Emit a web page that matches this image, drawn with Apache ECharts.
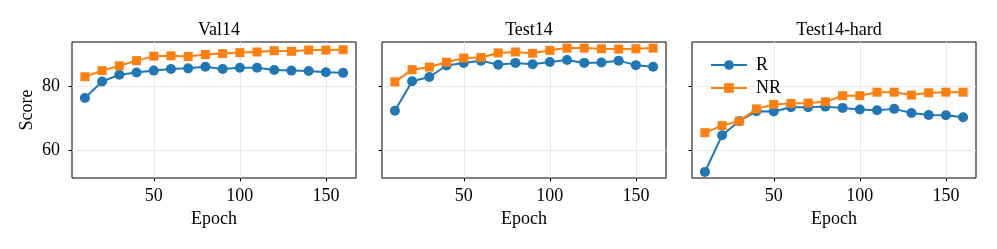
<!DOCTYPE html>
<html>
<head>
<meta charset="utf-8">
<script src="https://cdn.jsdelivr.net/npm/echarts@6/dist/echarts.min.js"></script>
<style>
html,body{margin:0;padding:0;background:#fff;}
#chart{width:997px;height:249px;}
</style>
</head>
<body>
<div id="chart"></div>
<script>
const epochs = [10,20,30,40,50,60,70,80,90,100,110,120,130,140,150,160];
const panelTitles = ['Val14','Test14','Test14-hard'];
const seriesNames = ['R','NR'];
const val14R  = [76.4,81.5,83.6,84.3,84.9,85.4,85.6,86.1,85.4,85.8,85.8,85.1,84.9,84.8,84.4,84.2];
const val14NR = [83.0,84.9,86.4,88.0,89.4,89.5,89.3,89.9,90.2,90.5,90.7,91.1,90.9,91.3,91.3,91.4];
const test14R  = [72.4,81.6,82.9,86.5,87.3,88.0,86.7,87.3,86.9,87.6,88.2,87.3,87.4,88.0,86.6,86.1];
const test14NR = [81.4,85.2,86.0,87.5,88.8,89.0,90.4,90.7,90.3,91.2,91.9,91.9,91.7,91.6,91.7,91.9];
const hardR  = [53.4,64.8,69.2,72.3,72.2,73.5,73.5,73.7,73.3,72.8,72.6,73.0,71.7,71.1,71.0,70.4];
const hardNR = [65.6,67.8,69.2,73.0,74.4,74.7,74.8,75.2,77.1,77.1,78.2,78.2,77.3,78.0,78.2,78.2];
const xTicks = [50,100,150];
const yTicks = [60,80];

const dataSets = [[val14R,val14NR],[test14R,test14NR],[hardR,hardNR]];
const colors = ['#1f77b4','#ff7f0e'];
const symbols = ['circle','rect'];
const FONT = 'Liberation Serif';
const grids = [
  {left:72, width:284, top:42, height:136},
  {left:382, width:284, top:42, height:136},
  {left:692, width:284, top:42, height:136}
];
const chart = echarts.init(document.getElementById('chart'));
const option = {
  animation:false,
  backgroundColor:'#fff',
  textStyle:{fontFamily:FONT},
  title: panelTitles.map((t,i)=>({
    text:t, left:grids[i].left+grids[i].width/2, top:16, textAlign:'center',
    textStyle:{fontFamily:FONT,fontSize:18,fontWeight:'normal',color:'#000'}
  })),
  legend:{
    data:seriesNames, orient:'vertical', left:705, top:50,
    itemWidth:36, itemHeight:12, itemGap:3,
    textStyle:{fontFamily:FONT,fontSize:18,color:'#000',padding:[0,0,0,4],lineHeight:20}
  },
  grid: grids.map(g=>Object.assign({show:true,borderColor:'#000',borderWidth:1,backgroundColor:'transparent'},g)),
  xAxis: grids.map((g,i)=>({
    type:'value', gridIndex:i, min:2.5, max:167.5,
    name:'Epoch', nameLocation:'middle', nameGap:32,
    nameTextStyle:{fontFamily:FONT,fontSize:18,color:'#000'},
    axisLine:{show:false},
    axisTick:{show:true,inside:false,length:3.5,lineStyle:{color:'#000'},customValues:xTicks},
    axisLabel:{fontFamily:FONT,fontSize:18,color:'#000',margin:9,customValues:xTicks},
    splitLine:{show:true,lineStyle:{color:'#e8e8e8',width:1},customValues:xTicks}
  })),
  yAxis: grids.map((g,i)=>({
    type:'value', gridIndex:i, min:51.5, max:93.8,
    name: i===0 ? 'Score' : '', nameLocation:'middle', nameGap:36,
    nameTextStyle:{fontFamily:FONT,fontSize:18,color:'#000'},
    axisLine:{show:false},
    axisTick:{show:true,inside:false,length:3.5,lineStyle:{color:'#000'},customValues:yTicks},
    axisLabel:{show:i===0,fontFamily:FONT,fontSize:18,color:'#000',margin:12,customValues:yTicks},
    splitLine:{show:true,lineStyle:{color:'#e8e8e8',width:1},customValues:yTicks}
  })),
  series: []
};
dataSets.forEach((pair,i)=>{
  pair.forEach((vals,j)=>{
    option.series.push({
      type:'line', name:seriesNames[j], xAxisIndex:i, yAxisIndex:i,
      data: epochs.map((e,k)=>[e,vals[k]]),
      symbol:symbols[j], symbolSize: j===0?10:9, showSymbol:true,
      itemStyle:{color:colors[j]}, lineStyle:{color:colors[j],width:2},
      z: 2+j
    });
  });
});
chart.setOption(option);
</script>
</body>
</html>
